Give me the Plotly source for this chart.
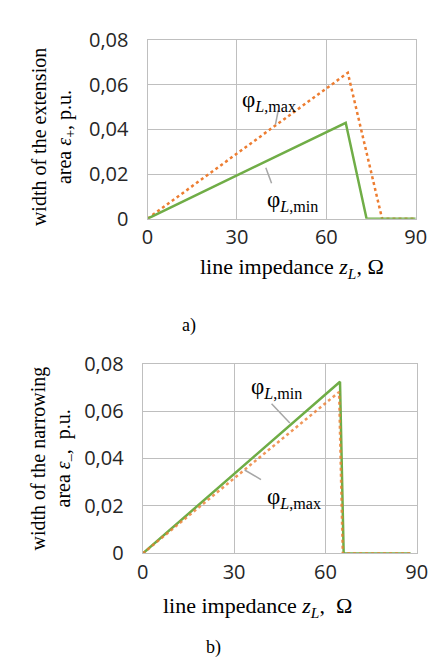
import plotly.graph_objects as go

W, H = 437, 664

# ---- data ----
a_z_min = [0, 66.5, 73.5, 90]
a_eps_min = [0, 0.043, 0, 0]
a_z_max = [0, 67.2, 78.7, 90]
a_eps_max = [0, 0.0654, 0, 0]

b_z_min = [0, 64.8, 66.0, 88]
b_eps_min = [0, 0.0723, 0, 0]
b_z_max = [0, 64.5, 65.7, 88]
b_eps_max = [0, 0.068, 0, 0]

x_ticks = [0, 30, 60, 90]
x_ticktext = ["0", "30", "60", "90"]
y_ticks = [0, 0.02, 0.04, 0.06, 0.08]
y_ticktext = ["0", "0,02", "0,04", "0,06", "0,08"]

GREEN = "#70ad47"
ORANGE = "#ed7d31"
GRID = "#bfbfbf"

def px(x):
    return x / W

def py(y):
    return 1 - y / H

fig = go.Figure()

fig.add_trace(go.Scatter(x=a_z_max, y=a_eps_max, mode="lines", xaxis="x", yaxis="y",
                         line=dict(color=ORANGE, width=2.5, dash="dot"), showlegend=False))
fig.add_trace(go.Scatter(x=a_z_min, y=a_eps_min, mode="lines", xaxis="x", yaxis="y",
                         line=dict(color=GREEN, width=2.5), showlegend=False))
fig.add_trace(go.Scatter(x=b_z_min, y=b_eps_min, mode="lines", xaxis="x2", yaxis="y2",
                         line=dict(color=GREEN, width=2.5), showlegend=False))
fig.add_trace(go.Scatter(x=b_z_max, y=b_eps_max, mode="lines", xaxis="x2", yaxis="y2",
                         line=dict(color=ORANGE, width=2.5, dash="dot"), opacity=0.8,
                         showlegend=False))

tickfont = dict(family="Open Sans", size=20, color="#262626")
common_x = dict(range=[0, 90], tickvals=x_ticks, ticktext=x_ticktext, showgrid=True,
                gridcolor=GRID, gridwidth=1.3, showline=True, linecolor=GRID, linewidth=1.3,
                mirror=True, zeroline=False, ticks="", tickfont=tickfont, fixedrange=True)
common_y = dict(range=[0, 0.08], tickvals=y_ticks, ticktext=y_ticktext, showgrid=True,
                gridcolor=GRID, gridwidth=1.3, showline=True, linecolor=GRID, linewidth=1.3,
                mirror=True, zeroline=False, ticks="", tickfont=tickfont, fixedrange=True,
                ticklabelstandoff=14)

fig.update_layout(
    width=W, height=H,
    margin=dict(l=0, r=0, t=0, b=0),
    paper_bgcolor="white", plot_bgcolor="white",
    xaxis=dict(domain=[px(139), px(418)], anchor="y", **common_x),
    yaxis=dict(domain=[py(205), py(19)], anchor="x", **common_y),
    xaxis2=dict(domain=[px(134), px(419)], anchor="y2", **common_x),
    yaxis2=dict(domain=[py(554), py(356)], anchor="x2", **common_y),
)

serif = dict(family="Liberation Serif", size=20, color="black")
xt = dict(family="Liberation Serif", size=22, color="black")
lab = dict(family="Liberation Serif", size=23, color="black")
cap = dict(family="Liberation Serif", size=18, color="black")

ann = []
def text(x, y, t, font=serif, angle=0):
    ann.append(dict(x=px(x), y=py(y), xref="paper", yref="paper", text=t, showarrow=False,
                    font=font, textangle=angle, xanchor="center", yanchor="middle"))

# chart a
text(26, 120, "width of the extension", angle=-90)
text(53, 120, "area <i>ε</i><sub>+</sub>, p.u.", angle=-90)
text(289, 256, "line impedance <i>z<sub>L</sub></i>, Ω", font=xt)
text(265, 82, "φ<sub><i>L</i>,max</sub>", font=lab)
text(290, 187, "φ<sub><i>L</i>,min</sub>", font=lab)
text(182, 316, "a)", font=cap)

# chart b
text(26, 455, "width of the narrowing", angle=-90)
text(53, 455, "area <i>ε</i><sub>–</sub>,  p.u.", angle=-90)
text(253, 610, "line impedance <i>z<sub>L</sub></i>,  Ω", font=xt)
text(273, 382, "φ<sub><i>L</i>,min</sub>", font=lab)
text(291, 496, "φ<sub><i>L</i>,max</sub>", font=lab)
text(208, 652, "b)", font=cap)

fig.update_layout(annotations=ann)

leaders = [((275, 92), (272, 107)), ((262, 152), (268, 168)),
           ((268, 398), (287, 418)), ((240, 467), (257, 477))]
shapes = []
for (x0, y0), (x1, y1) in leaders:
    shapes.append(dict(type="line", xref="paper", yref="paper", x0=px(x0), y0=py(y0),
                       x1=px(x1), y1=py(y1), line=dict(color="#a6a6a6", width=1.5)))
fig.update_layout(shapes=shapes)

fig.write_html("out.html")
